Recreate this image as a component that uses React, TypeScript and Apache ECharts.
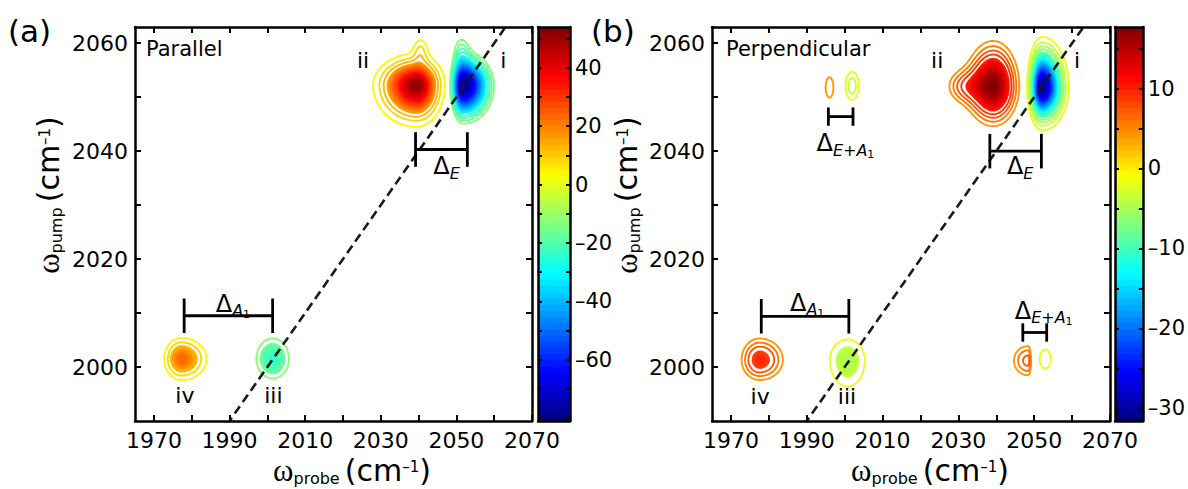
import { useEffect, useRef } from "react";
import * as echarts from "echarts";

const FONT = "DejaVu Sans";
const SERIF = "Liberation Serif";

// ---- axes ----
const X_MIN = 1965;
const X_MAX = 2070;
const Y_MIN = 1990;
const Y_MAX = 2063;
const X_TICKS = [1970, 1980, 1990, 2000, 2010, 2020, 2030, 2040, 2050, 2060, 2070];
const X_LABELS = [1970, 1990, 2010, 2030, 2050, 2070];
const Y_TICKS = [2000, 2010, 2020, 2030, 2040, 2050, 2060];
const Y_LABELS = [2000, 2020, 2040, 2060];
const DIAGONAL = [1985, 2075];

// ---- colour bars ----
const CBAR_A_RANGE = [-81, 54];
const CBAR_A_TICKS = [-80, -70, -60, -50, -40, -30, -20, -10, 0, 10, 20, 30, 40, 50];
const CBAR_A_LABELS = [-60, -40, -20, 0, 20, 40];
const CBAR_B_RANGE = [-31.6, 17.7];
const CBAR_B_TICKS = [-30, -25, -20, -15, -10, -5, 0, 5, 10, 15];
const CBAR_B_LABELS = [-30, -20, -10, 0, 10];
const N_BANDS = 64;

// ---- contour levels ----
const LEVELS_A = [4, 8, 12, 16, 20, 24, 28, 32, 36, 40, 44, 48, 52,
  -12, -16, -20, -24, -28, -32, -36, -40, -44, -48, -52, -56, -60, -64, -68, -72, -76, -80];
const LEVELS_B = [4, 5.5, 7, 8.5, 10, 11.5, 13, 14.5, 16,
  -2, -3.5, -5, -6.5, -8, -9.5, -11, -12.5, -14, -15.5, -17, -18.5, -20, -21.5, -23, -24.5, -26, -27.5, -29, -30.5];

// ---- peaks: [centre probe, centre pump, amplitude, sigmaLeft, sigmaRight, sigmaDown, sigmaUp, outline rings] ----
const PEAKS_A = [
  [2039.5, 2052.2, 52, 5.1, 3.3, 3.4, 2.6, 3],
  [2051.8, 2052.2, -80, 1.8, 4.2, 3.65, 3.2, 4],
  [2001.4, 2001.5, -24, 3.65, 3.65, 3.06, 3.23, 1],
  [1977.3, 2001.5, 25, 2.4, 3.45, 2.04, 2.04, 2],
];
// shoulders: [peak index, probe, pump, amplitude, sigmaX, sigmaY]
const SHOULDERS_A = [
  [0, 2040.5, 2058.6, 8, 1.3, 1.6],
  [1, 2051.3, 2059, -12, 1.8, 2.5],
];
const PEAKS_B = [
  [2039.2, 2052.0, 17.5, 4.3, 4.0, 4.3, 4.9, 4],
  [2052.1, 2051.8, -31, 1.7, 3.0, 3.4, 4.0, 4],
  [2000.8, 2001.3, -5.2, 3.4, 3.26, 3.55, 2.75, 1],
  [1977.6, 2001.3, 10, 3.55, 4.5, 2.73, 2.95, 3],
  [1996.0, 2051.8, 4.8, 1.7, 1.7, 3.1, 3.1, 9],
  [2002.0, 2052.1, -4.5, 1.4, 1.35, 2.05, 2.05, 9],
  [2048.4, 2001.2, 7.6, 3.3, 0.7, 2.4, 2.35, 9],
  [2052.9, 2001.5, -2.6, 2.0, 2.0, 2.4, 2.4, 9],
];
const SHOULDERS_B = [
  [0, 2031, 2052, 6, 3.3, 2.2],
];

// ---- brackets: [probe start, probe end, pump, half tick height] ----
const BRACKETS_A = [
  [2039.2, 2052.9, 2040.3, 3.2],
  [1978.0, 2001.4, 2009.5, 3.2],
];
const BRACKETS_B = [
  [2038.3, 2051.9, 2040.0, 3.2],
  [1978.0, 2001.1, 2009.4, 3.2],
  [1995.7, 2002.2, 2046.4, 1.7],
  [2047.0, 2053.3, 2006.4, 1.7],
];

// ---- annotation labels: [probe, pump, text index] ----
const LABEL_TEXTS = [
  "ii",
  "i",
  "iii",
  "iv",
  "{d|Δ}{s|E}",
  "{d|Δ}{s|A}{ss|1}",
  "{d|Δ}{s|E+A}{ss|1}",
];
const LABELS_A = [
  [2025.3, 2056.8, 0],
  [2062.4, 2056.8, 1],
  [2001.6, 1994.8, 2],
  [1978.2, 1994.8, 3],
  [2047.4, 2037.2, 4],
  [1990.9, 2011.7, 5],
];
const LABELS_B = [
  [2024.4, 2056.8, 0],
  [2061.3, 2056.8, 1],
  [2000.6, 1994.5, 2],
  [1977.7, 1994.5, 3],
  [2046.3, 2037.2, 4],
  [1990.1, 2011.9, 5],
  [2000.2, 2041.5, 6],
  [2052.5, 2010.4, 6],
];

function clamp01(v: number) {
  return Math.max(0, Math.min(1, v));
}
function jetBand(i: number) {
  const v = (i + 0.5) / N_BANDS;
  const r = clamp01(1.5 - Math.abs(4 * v - 3));
  const g = clamp01(1.5 - Math.abs(4 * v - 2));
  const b = clamp01(1.5 - Math.abs(4 * v - 1));
  return `rgb(${Math.round(r * 255)},${Math.round(g * 255)},${Math.round(b * 255)})`;
}
function jetValue(val: number, range: number[]) {
  const t = (val - range[0]) / (range[1] - range[0]);
  const i = Math.max(0, Math.min(N_BANDS - 1, Math.floor(t * N_BANDS)));
  return jetBand(i);
}

function contourRenderer(shoulders: number[][], levels: number[], range: number[]) {
  return (params: any, api: any) => {
    const idx = params.dataIndex;
    const cx = api.value(0);
    const cy = api.value(1);
    const A = api.value(2);
    const sL = api.value(3);
    const sR = api.value(4);
    const sD = api.value(5);
    const sU = api.value(6);
    const rings = api.value(7);
    const sh = shoulders.filter((s) => s[0] === idx);
    const sign = A > 0 ? 1 : -1;
    const field = (x: number, y: number) => {
      const dx = x - cx;
      const dy = y - cy;
      const sx = dx < 0 ? sL : sR;
      const sy = dy < 0 ? sD : sU;
      let f = A * Math.exp(-0.5 * ((dx / sx) * (dx / sx) + (dy / sy) * (dy / sy)));
      for (const s of sh) {
        const ex = (x - s[1]) / s[4];
        const ey = (y - s[2]) / s[5];
        f += s[3] * Math.exp(-0.5 * (ex * ex + ey * ey));
      }
      return sign * f;
    };
    const main = levels
      .filter((l) => l * sign > 0 && Math.abs(l) < Math.abs(A))
      .sort((a, b) => Math.abs(a) - Math.abs(b));
    const step = main.length > 1 ? Math.abs(main[1] - main[0]) : 1;
    const N = 96;
    const STEP = 0.12;
    const RMAX = 17;
    const prev = new Array(N).fill(RMAX);
    const contour = (L: number) => {
      const a = Math.abs(L);
      const pts: number[][] = [];
      for (let k = 0; k < N; k++) {
        const th = (2 * Math.PI * k) / N;
        const c = Math.cos(th);
        const s = Math.sin(th);
        let r = Math.min(RMAX, prev[k] + STEP);
        let found = 0;
        while (r > 0) {
          if (field(cx + r * c, cy + r * s) >= a) {
            found = r;
            break;
          }
          r -= STEP;
        }
        let lo = found;
        let hi = found + STEP;
        for (let it = 0; it < 9; it++) {
          const m = (lo + hi) / 2;
          if (field(cx + m * c, cy + m * s) >= a) lo = m;
          else hi = m;
        }
        prev[k] = lo;
        pts.push(api.coord([cx + lo * c, cy + lo * s]));
      }
      return pts;
    };
    const children: any[] = [];
    main.forEach((L, j) => {
      if (j < rings) {
        children.push({
          type: "polygon",
          shape: { points: contour(L) },
          style: { fill: "none", stroke: jetValue(L, range), lineWidth: 1.9 },
        });
      } else {
        for (let q = 0; q < 3; q++) {
          const Lq = L + (sign * step * q) / 3;
          if (Math.abs(Lq) >= Math.abs(A)) break;
          const col = jetValue(Lq, range);
          children.push({
            type: "polygon",
            shape: { points: contour(Lq) },
            style: { fill: col, stroke: col, lineWidth: 1 },
          });
        }
      }
    });
    return { type: "group", children };
  };
}

function bracketRenderer(params: any, api: any) {
  const x1 = api.value(0);
  const x2 = api.value(1);
  const y = api.value(2);
  const h = api.value(3);
  const a = api.coord([x1, y]);
  const b = api.coord([x2, y]);
  const a1 = api.coord([x1, y + h]);
  const a2 = api.coord([x1, y - h]);
  const b1 = api.coord([x2, y + h]);
  const b2 = api.coord([x2, y - h]);
  const st = { stroke: "#000", lineWidth: 2.8 };
  return {
    type: "group",
    children: [
      { type: "line", shape: { x1: a[0], y1: a[1], x2: b[0], y2: b[1] }, style: st },
      { type: "line", shape: { x1: a1[0], y1: a1[1], x2: a2[0], y2: a2[1] }, style: st },
      { type: "line", shape: { x1: b1[0], y1: b1[1], x2: b2[0], y2: b2[1] }, style: st },
    ],
  };
}

const RICH = {
  d: { fontSize: 24, fontFamily: FONT, fill: "#000" },
  s: { fontSize: 16, fontFamily: FONT, fontStyle: "italic", fill: "#000", padding: [14, 0, 0, 0] },
  ss: { fontSize: 11, fontFamily: FONT, fill: "#000", padding: [22, 0, 0, 0] },
};

function labelRenderer(params: any, api: any) {
  const p = api.coord([api.value(0), api.value(1)]);
  const text = LABEL_TEXTS[api.value(2)];
  return {
    type: "text",
    x: p[0],
    y: p[1],
    style: {
      text,
      rich: RICH,
      fontSize: 22,
      fontFamily: FONT,
      fill: "#000",
      align: "center",
      verticalAlign: "middle",
    },
  };
}

function colorbarRenderer(range: number[]) {
  return (params: any, api: any) => {
    const i = api.value(0);
    const lo = range[0] + ((range[1] - range[0]) * i) / N_BANDS;
    const hi = range[0] + ((range[1] - range[0]) * (i + 1)) / N_BANDS;
    const p0 = api.coord([0, lo]);
    const p1 = api.coord([1, hi]);
    return {
      type: "rect",
      shape: { x: p0[0], y: p1[1], width: p1[0] - p0[0], height: p0[1] - p1[1] + 0.7 },
      style: { fill: jetBand(i) },
    };
  };
}

const BANDS = Array.from({ length: N_BANDS }, (_, i) => [i]);

const AXIS_LINE = { show: true, onZero: false, lineStyle: { color: "#000", width: 2.5 } };
const TICK_LABEL = { fontSize: 22, fontFamily: FONT, color: "#000" };
const plainFmt = (v: number) => String(v);
const minusFmt = (v: number) => (v < 0 ? "\u2013" + Math.abs(v) : String(v));

type Panel = {
  gridLeft: number;
  gridWidth: number;
  cbLeft: number;
  cbWidth: number;
  cbRange: number[];
  cbTicks: number[];
  cbLabels: number[];
  peaks: number[][];
  shoulders: number[][];
  levels: number[];
  brackets: number[][];
  labels: number[][];
};

const PANELS: Panel[] = [
  {
    gridLeft: 135, gridWidth: 397, cbLeft: 538, cbWidth: 32,
    cbRange: CBAR_A_RANGE, cbTicks: CBAR_A_TICKS, cbLabels: CBAR_A_LABELS,
    peaks: PEAKS_A, shoulders: SHOULDERS_A, levels: LEVELS_A, brackets: BRACKETS_A, labels: LABELS_A,
  },
  {
    gridLeft: 712, gridWidth: 398, cbLeft: 1115, cbWidth: 31,
    cbRange: CBAR_B_RANGE, cbTicks: CBAR_B_TICKS, cbLabels: CBAR_B_LABELS,
    peaks: PEAKS_B, shoulders: SHOULDERS_B, levels: LEVELS_B, brackets: BRACKETS_B, labels: LABELS_B,
  },
];

function buildOption() {
  const grid: any[] = [];
  const xAxis: any[] = [];
  const yAxis: any[] = [];
  const series: any[] = [];
  const TOP = 27;
  const HEIGHT = 394;
  PANELS.forEach((p, pi) => {
    const gMain = 2 * pi;
    const gCb = 2 * pi + 1;
    grid.push({ left: p.gridLeft, top: TOP, width: p.gridWidth, height: HEIGHT });
    grid.push({ left: p.cbLeft, top: TOP, width: p.cbWidth, height: HEIGHT });
    const xi = 4 * pi;
    const yi = 4 * pi;
    xAxis.push({
      gridIndex: gMain, type: "value", min: X_MIN, max: X_MAX, position: "bottom", z: 5,
      axisLine: AXIS_LINE,
      axisTick: { show: true, inside: true, length: 6, lineStyle: { color: "#000", width: 2 }, customValues: X_TICKS },
      axisLabel: { show: true, margin: 8, customValues: X_LABELS, formatter: plainFmt, ...TICK_LABEL },
      splitLine: { show: false },
    });
    xAxis.push({
      gridIndex: gMain, type: "value", min: X_MIN, max: X_MAX, position: "top", z: 5,
      axisLine: AXIS_LINE,
      axisTick: { show: true, inside: true, length: 6, lineStyle: { color: "#000", width: 2 }, customValues: X_TICKS },
      axisLabel: { show: false },
      splitLine: { show: false },
    });
    xAxis.push({
      gridIndex: gCb, type: "value", min: 0, max: 1, position: "bottom", z: 5,
      axisLine: AXIS_LINE, axisTick: { show: false }, axisLabel: { show: false }, splitLine: { show: false },
    });
    xAxis.push({
      gridIndex: gCb, type: "value", min: 0, max: 1, position: "top", z: 5,
      axisLine: AXIS_LINE, axisTick: { show: false }, axisLabel: { show: false }, splitLine: { show: false },
    });
    yAxis.push({
      gridIndex: gMain, type: "value", min: Y_MIN, max: Y_MAX, position: "left", z: 5,
      axisLine: AXIS_LINE,
      axisTick: { show: true, inside: true, length: 6, lineStyle: { color: "#000", width: 2 }, customValues: Y_TICKS },
      axisLabel: { show: true, margin: 7, customValues: Y_LABELS, formatter: plainFmt, ...TICK_LABEL },
      splitLine: { show: false },
    });
    yAxis.push({
      gridIndex: gMain, type: "value", min: Y_MIN, max: Y_MAX, position: "right", z: 5,
      axisLine: AXIS_LINE,
      axisTick: { show: true, inside: true, length: 6, lineStyle: { color: "#000", width: 2 }, customValues: Y_TICKS },
      axisLabel: { show: false },
      splitLine: { show: false },
    });
    yAxis.push({
      gridIndex: gCb, type: "value", min: p.cbRange[0], max: p.cbRange[1], position: "left", z: 5,
      axisLine: AXIS_LINE,
      axisTick: { show: true, inside: true, length: 4, lineStyle: { color: "#000", width: 2 }, customValues: p.cbTicks },
      axisLabel: { show: false },
      splitLine: { show: false },
    });
    yAxis.push({
      gridIndex: gCb, type: "value", min: p.cbRange[0], max: p.cbRange[1], position: "right", z: 5,
      axisLine: AXIS_LINE,
      axisTick: { show: true, inside: true, length: 4, lineStyle: { color: "#000", width: 2 }, customValues: p.cbTicks },
      axisLabel: { show: true, margin: 5, customValues: p.cbLabels, formatter: minusFmt, ...TICK_LABEL, fontSize: 21 },
      splitLine: { show: false },
    });

    series.push({
      type: "custom",
      xAxisIndex: xi, yAxisIndex: yi,
      data: p.peaks,
      dimensions: ["x", "y", "amp", "sl", "sr", "sd", "su", "rings"],
      encode: { x: 0, y: 1 },
      renderItem: contourRenderer(p.shoulders, p.levels, p.cbRange),
      clip: true, silent: true, z: 2,
    });
    series.push({
      type: "line",
      xAxisIndex: xi, yAxisIndex: yi,
      data: DIAGONAL.map((v) => [v, v]),
      symbol: "none",
      lineStyle: { color: "#1a1a1a", width: 2.6, type: [9, 5] },
      clip: true, silent: true, z: 4,
    });
    series.push({
      type: "custom",
      xAxisIndex: xi, yAxisIndex: yi,
      data: p.brackets,
      encode: { x: [0, 1], y: 2 },
      renderItem: bracketRenderer,
      silent: true, z: 5,
    });
    series.push({
      type: "custom",
      xAxisIndex: xi, yAxisIndex: yi,
      data: p.labels,
      encode: { x: 0, y: 1 },
      renderItem: labelRenderer,
      silent: true, z: 6,
    });
    series.push({
      type: "custom",
      xAxisIndex: xi + 2, yAxisIndex: yi + 2,
      data: BANDS,
      encode: { y: 0 },
      renderItem: colorbarRenderer(p.cbRange),
      silent: true, z: 1,
    });
  });

  const titleRich = {
    w: { fontSize: 31, fontFamily: SERIF, fill: "#000" },
    sub: { fontSize: 16, fontFamily: FONT, fill: "#000", padding: [16, 0, 0, 0] },
    gap: { fontSize: 16, fontFamily: FONT, fill: "#000" },
    n: { fontSize: 30, fontFamily: FONT, fill: "#000" },
    sup: { fontSize: 15, fontFamily: FONT, fill: "#000", padding: [0, 0, 7, 0] },
  };
  const textStyle = (text: string, size: number) => ({
    text, fontSize: size, fontFamily: FONT, fill: "#000", align: "left", verticalAlign: "middle",
  });
  const graphic: any[] = [
    { type: "text", x: 8, y: 31, style: textStyle("(a)", 31) },
    { type: "text", x: 591, y: 31, style: textStyle("(b)", 31) },
    { type: "text", x: 146, y: 49, style: textStyle("Parallel", 21) },
    { type: "text", x: 726, y: 49, style: textStyle("Perpendicular", 21) },
  ];
  [
    { x: 352, yx: 48 },
    { x: 930, yx: 626 },
  ].forEach((t) => {
    graphic.push({
      type: "text", x: t.x, y: 470,
      style: { text: "{w|ω}{sub|probe}{gap| }{n|(cm}{sup|\u20131}{n|)}", rich: titleRich, align: "center", verticalAlign: "middle", fill: "#000" },
    });
    graphic.push({
      type: "text", x: t.yx, y: 195, rotation: Math.PI / 2,
      style: { text: "{w|ω}{sub|pump}{gap| }{n|(cm}{sup|\u20131}{n|)}", rich: titleRich, align: "center", verticalAlign: "middle", fill: "#000" },
    });
  });

  return {
    animation: false,
    backgroundColor: "#fff",
    grid,
    xAxis,
    yAxis,
    series,
    graphic,
  };
}

export default function App() {
  const ref = useRef<HTMLDivElement>(null);
  useEffect(() => {
    if (!ref.current) return;
    const chart = echarts.init(ref.current, undefined, { renderer: "svg" });
    chart.setOption(buildOption() as any);
    return () => chart.dispose();
  }, []);
  return (
    <div
      ref={ref}
      style={{ position: "fixed", left: 0, top: 0, width: 1188, height: 489, background: "#fff" }}
    />
  );
}
